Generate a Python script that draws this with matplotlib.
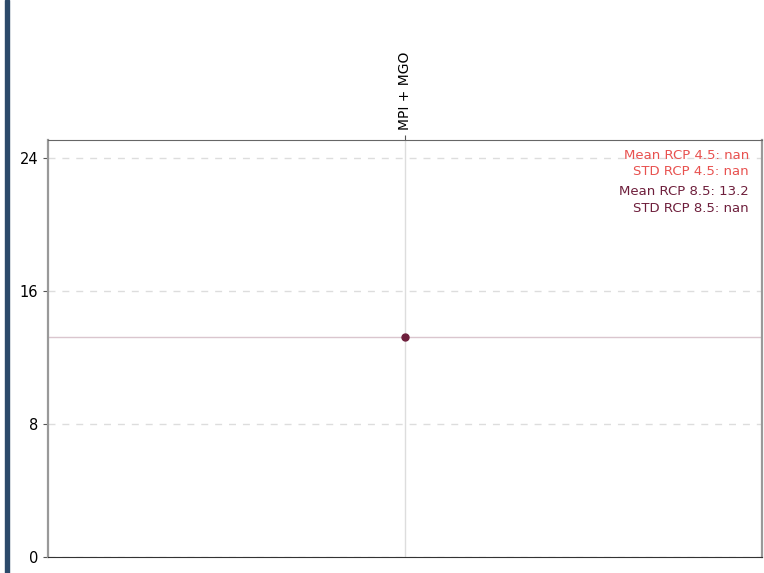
import matplotlib
matplotlib.use("Agg")
import matplotlib.pyplot as plt
import numpy as np

models = ["MPI + MGO"]
rcp85_values = [13.2]
rcp45_values = [np.nan]

mean85 = 13.2

c45 = "#e8514f"
c85 = "#6e1f3c"

fig = plt.figure(figsize=(7.64, 5.73), dpi=100)
# dark side bar on the left edge
fig.patches.append(plt.Rectangle((0.006, 0), 0.006, 1, transform=fig.transFigure,
                                 color="#2c4a6a", zorder=10))

ax = fig.add_axes([0.063, 0.028, 0.934, 0.728])
x = np.arange(len(models))

ax.axhline(mean85, color=c85, alpha=0.25, lw=1)
ax.plot(x, rcp85_values, "o", color=c85, ms=5, zorder=3)
ax.plot(x, rcp45_values, "o", color=c45, ms=5, zorder=3)

ax.set_xlim(-0.5, 0.5)
ax.set_ylim(0, 13.2 * 1.9)
ax.set_yticks([0, 8, 16, 24])
ax.yaxis.grid(True, ls=(0, (5, 5)), color="#dddddd", lw=1)
ax.xaxis.grid(True, color="#dddddd", lw=1)
ax.set_xticks(x)
ax.set_xticklabels(models, rotation=90, fontsize=10)
ax.xaxis.tick_top()
ax.tick_params(axis="y", labelsize=10.5, color="#555555")
ax.tick_params(axis="x", color="#555555")
ax.set_axisbelow(True)

for s in ["left", "right"]:
    ax.spines[s].set_color("#999999")
    ax.spines[s].set_linewidth(1.6)
ax.spines["bottom"].set_color("#333333")
ax.spines["top"].set_color("#666666")

txt = dict(transform=ax.transAxes, ha="right", va="center", fontsize=9.5)
ax.text(0.982, 0.962, "Mean RCP 4.5: nan", color=c45, **txt)
ax.text(0.982, 0.923, "STD RCP 4.5: nan", color=c45, **txt)
ax.text(0.982, 0.875, f"Mean RCP 8.5: {mean85:.1f}", color=c85, **txt)
ax.text(0.982, 0.835, "STD RCP 8.5: nan", color=c85, **txt)

fig.savefig("out.png", dpi=100)
